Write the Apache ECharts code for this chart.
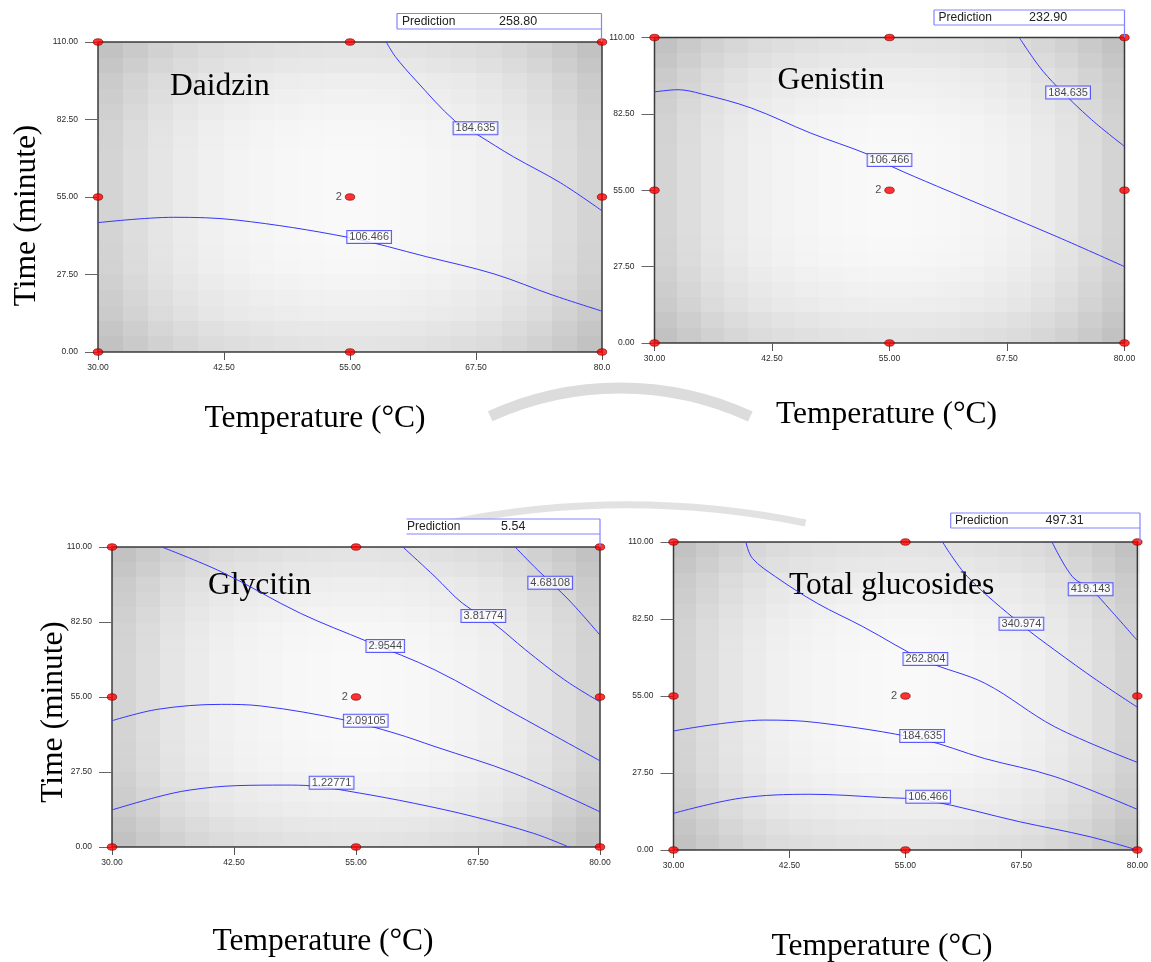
<!DOCTYPE html>
<html><head><meta charset="utf-8">
<script src="https://cdn.jsdelivr.net/npm/echarts@6/dist/echarts.min.js"></script>
<style>html,body{margin:0;padding:0;background:#fff}#c{width:1151px;height:962px}</style>
</head><body><div id="c"></div>
<script>
// ---------------- data ----------------
const xTickValues = [30, 42.5, 55, 67.5, 80];
const yTickValues = [0, 27.5, 55, 82.5, 110];
const xTickLabelsDaidzin = ['30.00', '42.50', '55.00', '67.50', '80.0'];
const xTickLabels = ['30.00', '42.50', '55.00', '67.50', '80.00'];
const yTickLabels = ['0.00', '27.50', '55.00', '82.50', '110.00'];
const panelNames = ['Daidzin', 'Genistin', 'Glycitin', 'Total glucosides'];
const predictionValues = ['258.80', '232.90', '5.54', '497.31'];
const xTitle = 'Temperature (°C)';
const yTitle = 'Time (minute)';
const designTemps = [30, 55, 80];
const designTimes = [0, 55, 110];
const centerReplicates = '2';

// Daidzin contours [temperature, time]
const daidzin_106466 = [[30,45.9],[37.5,47.8],[43.8,46.8],[54.8,40.7],[62.6,33.8],[69.3,27.7],[75.1,20.2],[80,14.5]];
const daidzin_184635 = [[58.6,110],[59.5,104.8],[61.5,96.5],[65.4,82.0],[67.7,77.0],[71.2,69.3],[75.9,60],[80,50.1]];
const daidzinLabels = [[56.9,40.8,'106.466'],[67.45,79.4,'184.635']];

// Genistin contours
const genistin_106466 = [[30,90.4],[32.5,91.2],[35,89.7],[40.3,84.6],[46.6,75.6],[52.8,67.8],[55.2,63.6],[60.1,56.4],[72.8,38.3],[80,27.5]];
const genistin_184635 = [[68.8,110],[70.9,99.7],[72.8,92.4],[76.5,80.4],[80,70.8]];
const genistinLabels = [[55.0,65.9,'106.466'],[74.0,90.2,'184.635']];

// Glycitin contours
const glycitin_122771 = [[30,13.6],[34.7,18.4],[38,20.9],[42.8,22.5],[47.7,22.7],[50.5,22.4],[55,20.0],[61,16.0],[67.1,11.1],[73.2,5.0],[76.8,0]];
const glycitin_209105 = [[30,46.3],[34.7,50.5],[41.2,52.3],[45.3,51.7],[53.8,46.6],[59,41.7],[63.1,36.8],[71.2,27.0],[80,12.9]];
const glycitin_29544 = [[35.1,110],[41.2,100.9],[49.3,85.7],[56.2,75.3],[63.1,64.9],[71.2,49.0],[80,31.6]];
const glycitin_381774 = [[59.8,110],[63.1,99.1],[65.9,89.4],[69.1,82.0],[72.4,72.2],[76.4,61.2],[80,53.2]];
const glycitin_468108 = [[71.3,110],[73.6,101.6],[76.8,90.6],[80,77.7]];
const glycitinLabels = [[52.5,23.6,'1.22771'],[56.0,46.3,'2.09105'],[58.0,73.7,'2.9544'],[68.05,84.7,'3.81774'],[74.9,96.9,'4.68108']];

// Total glucosides contours
const total_106466 = [[30,13.1],[37.2,18.5],[44.7,19.9],[52.3,18.8],[57.5,17.6],[67.3,10.1],[74.8,4.8],[80,0]];
const total_184635 = [[30,42.5],[39.8,46.4],[45.5,45.5],[56.8,39.5],[63.5,32.7],[71.1,26.2],[80,14.5]];
const total_262804 = [[37.8,110],[38.5,104.2],[41,97.6],[45.5,88.1],[50.4,79.8],[57.2,67.5],[63.6,59.5],[71.1,44],[80,31.3]];
const total_340974 = [[59,110],[61.7,97.6],[67.5,80.5],[71.1,71.4],[75.6,60.7],[80,51]];
const total_419143 = [[70.8,110],[73,97.6],[75,93.1],[77.1,85.7],[80,74.8]];
const totalLabels = [[57.45,19.0,'106.466'],[56.8,40.7,'184.635'],[57.15,68.2,'262.804'],[67.5,80.8,'340.974'],[74.96,93.1,'419.143']];

// ---------------- layout / style ----------------
const panels = [
  {box:[98,42,504,310], xl:xTickLabelsDaidzin, contours:[daidzin_106466, daidzin_184635], labels:daidzinLabels,
   title:[170,87], xT:[315,418.5], yT:[27,215.5], pred:{x:397,y:13.5,w:204.5,h:15.5,tx:402,vx:499,noLeft:false}},
  {box:[654.5,37.5,470,305.5], xl:xTickLabels, contours:[genistin_106466, genistin_184635], labels:genistinLabels,
   title:[777.5,81], xT:[886.5,415], yT:null, pred:{x:934,y:10,w:190.5,h:15,tx:938.5,vx:1029,noLeft:false}},
  {box:[112,547,488,300], xl:xTickLabels, contours:[glycitin_122771, glycitin_209105, glycitin_29544, glycitin_381774, glycitin_468108], labels:glycitinLabels,
   title:[208,586], xT:[323,942], yT:[53.5,712], pred:{x:406.5,y:519,w:193.5,h:15,tx:407,vx:501,noLeft:true}},
  {box:[673.5,542,466.5,308], xl:xTickLabels, contours:[total_106466, total_184635, total_262804, total_340974, total_419143], labels:totalLabels,
   title:[789,586], xT:[882,947], yT:null, pred:{x:950.7,y:513,w:189.3,h:15,tx:955,vx:1045.5,noLeft:false}}
];

const hLevels = [212, 221, 229, 235, 240, 243, 245, 247, 248, 249];
const vAlpha = [0.085, 0.065, 0.045, 0.03, 0.018, 0.009, 0.004, 0, 0, 0];
function stepStops(fn) {
  const s = [];
  for (let i = 0; i < 20; i++) {
    const k = Math.min(i, 19 - i);
    const c = fn(k);
    s.push({offset: i / 20, color: c});
    s.push({offset: (i + 1) / 20, color: c});
  }
  return s;
}
const hGrad = {type:'linear', x:0, y:0, x2:1, y2:0, colorStops: stepStops(k => `rgb(${hLevels[k]},${hLevels[k]},${hLevels[k]})`)};
const vGrad = {type:'linear', x:0, y:0, x2:0, y2:1, colorStops: stepStops(k => `rgba(0,0,0,${vAlpha[k]})`)};

const BLUE = '#3535ff';
const SANS = 'Liberation Sans, Arial, sans-serif';
const SERIF = 'Liberation Serif, Times New Roman, serif';

const grids = [], xAxes = [], yAxes = [], series = [], elements = [];

// watermark (faint)
elements.push({type:'arc', z:-5, shape:{cx:620, cy:700, r:312, startAngle:-2.0, endAngle:-1.14}, style:{stroke:'#dcdcdc', lineWidth:11, fill:null}, silent:true});
elements.push({type:'arc', z:-5, shape:{cx:627, cy:1400, r:895, startAngle:-1.772, endAngle:-1.37}, style:{stroke:'#e2e2e2', lineWidth:7, fill:null}, silent:true});

panels.forEach((p, i) => {
  const [L, T, W, H] = p.box;
  grids.push({left:L, top:T, width:W, height:H, show:true, backgroundColor:hGrad, borderColor:'#3c3c3c', borderWidth:1.5});
  xAxes.push({type:'value', gridIndex:i, min:30, max:80, interval:12.5,
    axisLine:{show:false}, splitLine:{show:false},
    axisTick:{show:true, length:8, lineStyle:{color:'#555', width:1}},
    axisLabel:{fontSize:8.5, color:'#2a2a2a', margin:11, fontFamily:SANS,
      formatter: v => { const k = xTickValues.indexOf(v); return k >= 0 ? p.xl[k] : ''; }}});
  yAxes.push({type:'value', gridIndex:i, min:0, max:110, interval:27.5,
    axisLine:{show:false}, splitLine:{show:false},
    axisTick:{show:true, length:13, lineStyle:{color:'#666', width:1}},
    axisLabel:{fontSize:8.5, color:'#2a2a2a', margin:20, fontFamily:SANS,
      formatter: v => { const k = yTickValues.indexOf(v); return k >= 0 ? yTickLabels[k] : ''; }}});

  // vertical shading overlay
  elements.push({type:'rect', z:1, silent:true, shape:{x:L, y:T, width:W, height:H}, style:{fill:vGrad}});

  // contour lines
  p.contours.forEach(c => {
    series.push({type:'line', xAxisIndex:i, yAxisIndex:i, data:c, showSymbol:false, smooth:0.35,
      lineStyle:{color:BLUE, width:1}, silent:true, z:3, animation:false});
  });
  // contour labels
  series.push({type:'scatter', xAxisIndex:i, yAxisIndex:i, symbol:'rect', symbolSize:1,
    itemStyle:{color:'rgba(0,0,0,0)'}, silent:true, z:6,
    data: p.labels.map(l => ({value:[l[0], l[1]], name:l[2]})),
    label:{show:true, position:'inside', formatter: q => q.name, fontSize:11, fontFamily:SANS, color:'#1a1a1a',
      backgroundColor:'#fff', borderColor:BLUE, borderWidth:1, padding:[1,2,0,2], lineHeight:11}});
  // design points
  const pts = [];
  designTemps.forEach(tx => designTimes.forEach(ty => {
    const item = {value:[tx, ty]};
    if (tx === designTemps[1] && ty === designTimes[1]) {
      item.label = {show:true, formatter:centerReplicates, position:'left', distance:3, fontSize:11, fontFamily:SANS, color:'#222'};
    }
    pts.push(item);
  }));
  series.push({type:'scatter', xAxisIndex:i, yAxisIndex:i, symbol:'circle', symbolSize:[9.5,6.5], clip:false, z:8,
    itemStyle:{color:'#ff0000', borderColor:'#7a0000', borderWidth:0.8}, data:pts, silent:true});

  // panel title
  elements.push({type:'text', z:2, x:p.title[0], y:p.title[1], silent:true,
    style:{text:panelNames[i], font:`31.5px ${SERIF}`, fill:'#000', align:'left', verticalAlign:'middle'}});
  // x axis title
  elements.push({type:'text', z:2, x:p.xT[0], y:p.xT[1], silent:true,
    style:{text:xTitle, font:`31.5px ${SERIF}`, fill:'#000', align:'center', verticalAlign:'middle'}});
  if (p.yT) {
    elements.push({type:'text', z:2, x:p.yT[0], y:p.yT[1], rotation:Math.PI/2, silent:true,
      style:{text:yTitle, font:`31.5px ${SERIF}`, fill:'#000', align:'center', verticalAlign:'middle'}});
  }
  // prediction flag
  const pr = p.pred;
  const PB = '#8383ff';
  elements.push({type:'rect', z:9, silent:true, shape:{x:pr.x, y:pr.y, width:pr.w, height:pr.h}, style:{fill:'#fff', stroke:null}});
  const edges = [[[pr.x, pr.y],[pr.x+pr.w, pr.y]], [[pr.x, pr.y+pr.h],[pr.x+pr.w, pr.y+pr.h]], [[pr.x+pr.w, pr.y],[pr.x+pr.w, T]]];
  if (!pr.noLeft) edges.push([[pr.x, pr.y],[pr.x, pr.y+pr.h]]);
  edges.forEach(e => elements.push({type:'polyline', z:10, silent:true, shape:{points:e}, style:{stroke:PB, lineWidth:1.2, fill:null}}));
  elements.push({type:'text', z:11, x:pr.tx, y:pr.y + pr.h/2 + 0.5, silent:true,
    style:{text:'Prediction', font:`12px ${SANS}`, fill:'#222', align:'left', verticalAlign:'middle'}});
  elements.push({type:'text', z:11, x:pr.vx, y:pr.y + pr.h/2 + 0.5, silent:true,
    style:{text:predictionValues[i], font:`12.5px ${SANS}`, fill:'#222', align:'left', verticalAlign:'middle'}});
});

const chart = echarts.init(document.getElementById('c'), null, {renderer:'canvas'});
chart.setOption({
  animation:false,
  backgroundColor:'#ffffff',
  grid:grids, xAxis:xAxes, yAxis:yAxes, series:series,
  graphic:{elements:elements}
});
</script></body></html>
